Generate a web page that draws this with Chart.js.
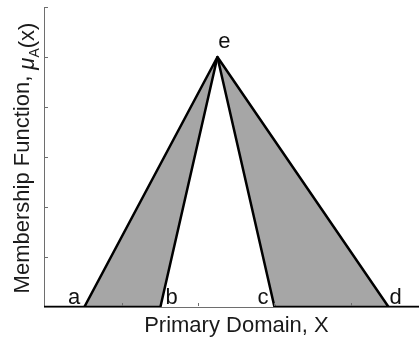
<!DOCTYPE html>
<html>
<head>
<meta charset="utf-8">
<script src="https://cdn.jsdelivr.net/npm/chart.js@4/dist/chart.umd.min.js"></script>
<style>
  html, body { margin: 0; padding: 0; background: #ffffff; }
  #wrap { width: 419px; height: 339px; position: relative; }
</style>
</head>
<body>
<div id="wrap"><canvas id="chart"></canvas></div>
<script>
// Foot points of the triangular membership functions (upper: a-e-d, lower: b-e-c)
const footLabels = ['a', 'b', 'c', 'd'];
const footValues = [0.5, 1.5, 3, 4.5];
// Shared apex
const apexLabel = 'e';
const apexX = 2.25;
const apexY = 1;
// Axis extents and tick positions
const xRange = [-0.03, 4.9];
const yRange = [0, 1.2];
const xTickValues = [1, 2, 3, 4];
const yTickValues = [0, 0.2, 0.4, 0.6, 0.8, 1.0, 1.2];
const xTitle = 'Primary Domain, X';
const yTitleMain = 'Membership Function, ';

const [a, b, c, d] = footValues;
const FONT = '"Liberation Sans", Arial, Helvetica, sans-serif';
const AXIS_COLOR = '#6e6e6e';
const BAND_COLOR = 'rgb(166,166,166)';

// Left band between upper and lower MF: a -> e -> b -> a
const leftBand = [{x: a, y: 0}, {x: apexX, y: apexY}, {x: b, y: 0}, {x: a, y: 0}];
// Right band: c -> e -> d -> c
const rightBand = [{x: c, y: 0}, {x: apexX, y: apexY}, {x: d, y: 0}, {x: c, y: 0}];
// Zero-valued tails of the upper MF outside [a, d]
const tails = [{x: xRange[0], y: 0}, {x: a, y: 0}, {x: apexX, y: null}, {x: d, y: 0}, {x: xRange[1], y: 0}];

const bandStyle = {
  borderColor: '#000000',
  borderWidth: 2.5,
  backgroundColor: BAND_COLOR,
  fill: 'shape',
  pointRadius: 0,
  tension: 0,
  borderJoinStyle: 'round',
  borderCapStyle: 'round'
};

const decorations = {
  id: 'decorations',
  afterDatasetsDraw(chart) {
    const {ctx, chartArea: ca} = chart;
    const xs = chart.scales.x, ys = chart.scales.y;
    ctx.save();

    // inward tick marks
    ctx.strokeStyle = AXIS_COLOR;
    ctx.lineWidth = 1;
    yTickValues.forEach(v => {
      const py = Math.round(ys.getPixelForValue(v)) + 0.5;
      ctx.beginPath();
      ctx.moveTo(ca.left, py);
      ctx.lineTo(ca.left + 4, py);
      ctx.stroke();
    });
    xTickValues.forEach(v => {
      const px = Math.round(xs.getPixelForValue(v)) + 0.5;
      ctx.beginPath();
      ctx.moveTo(px, ca.bottom - 1);
      ctx.lineTo(px, ca.bottom - 4);
      ctx.stroke();
    });

    // point letters
    ctx.fillStyle = '#111111';
    ctx.font = '22px ' + FONT;
    ctx.textBaseline = 'alphabetic';
    const base = ys.getPixelForValue(0) - 3;
    const offsets = [[-4, 'right'], [5, 'left'], [-6, 'right'], [1, 'left']];
    footLabels.forEach((lbl, i) => {
      ctx.textAlign = offsets[i][1];
      ctx.fillText(lbl, xs.getPixelForValue(footValues[i]) + offsets[i][0], base);
    });
    ctx.textAlign = 'center';
    ctx.fillText(apexLabel, xs.getPixelForValue(apexX) + 7, ys.getPixelForValue(apexY) - 9);

    // x-axis title
    ctx.fillStyle = '#1a1a1a';
    ctx.textAlign = 'center';
    ctx.fillText(xTitle, xs.getPixelForValue(2.5), 332);

    // y-axis title with mu_A(x)
    const parts = [
      {t: yTitleMain, font: '22px ' + FONT, dy: 0},
      {t: '\u03BC', font: 'italic 22px ' + FONT, dy: 5},
      {t: 'A', font: '14px ' + FONT, dy: 10},
      {t: '(x)', font: '22px ' + FONT, dy: 5}
    ];
    let total = 0;
    parts.forEach(p => { ctx.font = p.font; p.w = ctx.measureText(p.t).width; total += p.w; });
    ctx.translate(29, (ca.top + ca.bottom) / 2 + 1);
    ctx.rotate(-Math.PI / 2);
    ctx.textAlign = 'left';
    let cx = -total / 2;
    parts.forEach(p => {
      ctx.font = p.font;
      ctx.fillText(p.t, cx, p.dy);
      cx += p.w;
    });
    ctx.restore();
  }
};

new Chart(document.getElementById('chart'), {
  type: 'line',
  data: {
    datasets: [
      Object.assign({label: 'left', data: leftBand}, bandStyle),
      Object.assign({label: 'right', data: rightBand}, bandStyle),
      {label: 'tails', data: tails, borderColor: '#000000', borderWidth: 2.5, pointRadius: 0, fill: false, spanGaps: false}
    ]
  },
  options: {
    responsive: true,
    maintainAspectRatio: false,
    animation: false,
    devicePixelRatio: 1,
    layout: {padding: {left: 44, top: 7, right: 0, bottom: 32}},
    plugins: {legend: {display: false}, tooltip: {enabled: false}},
    scales: {
      x: {
        type: 'linear', min: xRange[0], max: xRange[1],
        ticks: {display: false},
        grid: {drawOnChartArea: false, drawTicks: false},
        border: {display: true, color: AXIS_COLOR, width: 1}
      },
      y: {
        type: 'linear', min: yRange[0], max: yRange[1],
        ticks: {display: false},
        grid: {drawOnChartArea: false, drawTicks: false},
        border: {display: true, color: AXIS_COLOR, width: 1}
      }
    }
  },
  plugins: [decorations]
});
</script>
</body>
</html>
